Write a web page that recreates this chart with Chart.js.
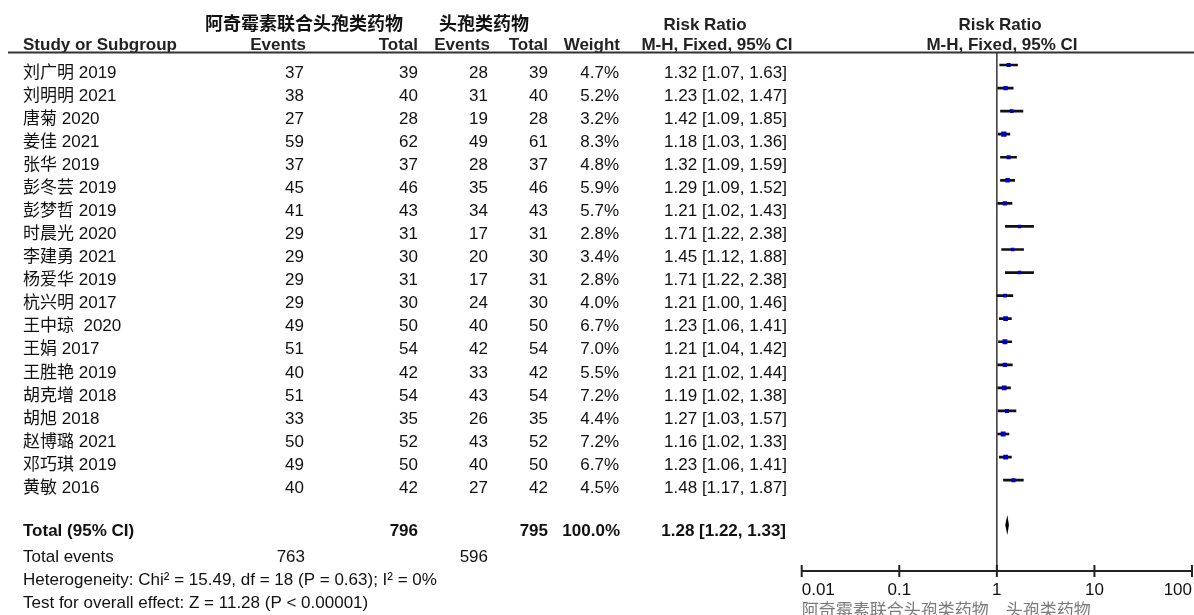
<!DOCTYPE html>
<html lang="zh">
<head>
  <meta charset="UTF-8">
  <title>阿奇霉素联合头孢类药物 vs 头孢类药物 Risk Ratio</title>
  <style>
    body { margin: 0; background: #fff; }
    .wrap { width: 1194px; height: 615px; overflow: hidden; }
  </style>
</head>
<body>
  <div class="wrap"><canvas id="forest" width="1196" height="615"></canvas></div>

  <script src="https://cdn.jsdelivr.net/npm/chart.js"></script>
  <script>
    // 各研究数据
    const studies = ['刘广明 2019', '刘明明 2021', '唐菊 2020', '姜佳 2021', '张华 2019', '彭冬芸 2019',
      '彭梦哲 2019', '时晨光 2020', '李建勇 2021', '杨爱华 2019', '杭兴明 2017', '王中琼  2020',
      '王娟 2017', '王胜艳 2019', '胡克增 2018', '胡旭 2018', '赵博璐 2021', '邓巧琪 2019', '黄敏 2016'];
    const expEvents = [37, 38, 27, 59, 37, 45, 41, 29, 29, 29, 29, 49, 51, 40, 51, 33, 50, 49, 40];
    const expTotal  = [39, 40, 28, 62, 37, 46, 43, 31, 30, 31, 30, 50, 54, 42, 54, 35, 52, 50, 42];
    const ctlEvents = [28, 31, 19, 49, 28, 35, 34, 17, 20, 17, 24, 40, 42, 33, 43, 26, 43, 40, 27];
    const ctlTotal  = [39, 40, 28, 61, 37, 46, 43, 31, 30, 31, 30, 50, 54, 42, 54, 35, 52, 50, 42];
    const weights   = [4.7, 5.2, 3.2, 8.3, 4.8, 5.9, 5.7, 2.8, 3.4, 2.8, 4.0, 6.7, 7.0, 5.5, 7.2, 4.4, 7.2, 6.7, 4.5];
    const rr        = [1.32, 1.23, 1.42, 1.18, 1.32, 1.29, 1.21, 1.71, 1.45, 1.71, 1.21, 1.23, 1.21, 1.21, 1.19, 1.27, 1.16, 1.23, 1.48];
    const ciLow     = [1.07, 1.02, 1.09, 1.03, 1.09, 1.09, 1.02, 1.22, 1.12, 1.22, 1.00, 1.06, 1.04, 1.02, 1.02, 1.03, 1.02, 1.06, 1.17];
    const ciHigh    = [1.63, 1.47, 1.85, 1.36, 1.59, 1.52, 1.43, 2.38, 1.88, 2.38, 1.46, 1.41, 1.42, 1.44, 1.38, 1.57, 1.33, 1.41, 1.87];

    // 合并结果
    const totalExpN = 796, totalCtlN = 795;
    const totalExpEvents = 763, totalCtlEvents = 596;
    const totalWeight = 100.0;
    const totalRR = 1.28, totalLow = 1.22, totalHigh = 1.33;
    const heterogeneity = 'Heterogeneity: Chi² = 15.49, df = 18 (P = 0.63); I² = 0%';
    const overallTest = 'Test for overall effect: Z = 11.28 (P < 0.00001)';

    // 行号（y 轴上的位置）
    const totalRow = 19.95, eventsRow = 21, hetRow = 22, testRow = 23;

    // 横轴刻度与组名
    const axisTicks = [0.01, 0.1, 1, 10, 100];
    const groupExp = '阿奇霉素联合头孢类药物';
    const groupCtl = '头孢类药物';

    const LATIN = "'Liberation Sans', Arial, 'Noto Sans CJK SC', sans-serif";
    const CJK = "'Noto Sans CJK SC', sans-serif";
    const INK = '#111';
    const LINE = '#333';

    const f2 = v => v.toFixed(2);
    const ciText = (m, l, h) => f2(m) + ' [' + f2(l) + ', ' + f2(h) + ']';

    function txt(ctx, s, x, y, align, font, color) {
      ctx.font = font;
      ctx.textAlign = align;
      ctx.fillStyle = color || INK;
      ctx.fillText(s, x, y);
    }

    // 表格文字、无效线、合并菱形和横轴
    const forestTable = {
      id: 'forestTable',
      beforeDatasetsDraw(chart) {
        const { ctx, chartArea: a, scales: { x } } = chart;
        const x1 = x.getPixelForValue(1);
        ctx.save();
        ctx.strokeStyle = LINE;
        ctx.lineWidth = 1.5;
        ctx.beginPath();
        ctx.moveTo(x1, a.top);
        ctx.lineTo(x1, a.bottom);
        ctx.stroke();
        ctx.restore();
      },
      afterDatasetsDraw(chart) {
        const { ctx, chartArea: a, scales: { x, y } } = chart;
        const reg = '17px ' + LATIN;
        const bold = 'bold 17px ' + LATIN;
        const base = row => y.getPixelForValue(row) + 12.7;
        ctx.save();
        ctx.textBaseline = 'alphabetic';

        // 表头
        txt(ctx, groupExp, 304, 30, 'center', 'bold 18px ' + CJK);
        txt(ctx, groupCtl, 484, 30, 'center', 'bold 18px ' + CJK);
        txt(ctx, 'Risk Ratio', 705, 30, 'center', bold, '#222');
        txt(ctx, 'Risk Ratio', 1000, 30, 'center', bold, '#222');
        txt(ctx, 'Study or Subgroup', 23, 50, 'left', bold, '#222');
        txt(ctx, 'Events', 306, 50, 'right', bold, '#222');
        txt(ctx, 'Total', 418, 50, 'right', bold, '#222');
        txt(ctx, 'Events', 490, 50, 'right', bold, '#222');
        txt(ctx, 'Total', 548, 50, 'right', bold, '#222');
        txt(ctx, 'Weight', 620, 50, 'right', bold, '#222');
        txt(ctx, 'M-H, Fixed, 95% CI', 717, 50, 'center', bold, '#222');
        txt(ctx, 'M-H, Fixed, 95% CI', 1002, 50, 'center', bold, '#222');

        ctx.strokeStyle = LINE;
        ctx.lineWidth = 2;
        ctx.beginPath();
        ctx.moveTo(8, 52.5);
        ctx.lineTo(chart.width, 52.5);
        ctx.stroke();

        // 各研究
        studies.forEach((s, i) => {
          const by = base(i);
          txt(ctx, s, 23, by, 'left', reg);
          txt(ctx, String(expEvents[i]), 304, by, 'right', reg);
          txt(ctx, String(expTotal[i]), 418, by, 'right', reg);
          txt(ctx, String(ctlEvents[i]), 488, by, 'right', reg);
          txt(ctx, String(ctlTotal[i]), 548, by, 'right', reg);
          txt(ctx, weights[i].toFixed(1) + '%', 619, by, 'right', reg);
          txt(ctx, ciText(rr[i], ciLow[i], ciHigh[i]), 787, by, 'right', reg);
        });

        // 合并行
        let by = y.getPixelForValue(totalRow) + 11;
        txt(ctx, 'Total (95% CI)', 23, by, 'left', bold);
        txt(ctx, String(totalExpN), 418, by, 'right', bold);
        txt(ctx, String(totalCtlN), 548, by, 'right', bold);
        txt(ctx, totalWeight.toFixed(1) + '%', 620, by, 'right', bold);
        txt(ctx, ciText(totalRR, totalLow, totalHigh), 786, by, 'right', bold);

        by = base(eventsRow);
        txt(ctx, 'Total events', 23, by, 'left', reg);
        txt(ctx, String(totalExpEvents), 305, by, 'right', reg);
        txt(ctx, String(totalCtlEvents), 488, by, 'right', reg);
        txt(ctx, heterogeneity, 23, base(hetRow), 'left', reg);
        txt(ctx, overallTest, 23, base(testRow), 'left', reg);

        // 合并效应菱形
        const dy = y.getPixelForValue(totalRow);
        const xm = x.getPixelForValue(totalRR);
        ctx.fillStyle = '#000';
        ctx.beginPath();
        ctx.moveTo(x.getPixelForValue(totalLow), dy);
        ctx.lineTo(xm, dy - 10);
        ctx.lineTo(x.getPixelForValue(totalHigh), dy);
        ctx.lineTo(xm, dy + 10);
        ctx.closePath();
        ctx.fill();

        // 横轴
        ctx.strokeStyle = '#222';
        ctx.lineWidth = 2;
        ctx.beginPath();
        ctx.moveTo(a.left, a.bottom);
        ctx.lineTo(a.right, a.bottom);
        axisTicks.forEach(t => {
          const px = x.getPixelForValue(t);
          ctx.moveTo(px, a.bottom - 6);
          ctx.lineTo(px, a.bottom + 6);
        });
        ctx.stroke();
        axisTicks.forEach((t, i) => {
          const align = i === 0 ? 'left' : (i === axisTicks.length - 1 ? 'right' : 'center');
          txt(ctx, String(t), x.getPixelForValue(t), a.bottom + 24, align, reg);
        });
        const x1 = x.getPixelForValue(1);
        txt(ctx, groupExp, x1 - 8, a.bottom + 45, 'right', '17px ' + CJK, '#7a7a7a');
        txt(ctx, groupCtl, x1 + 9, a.bottom + 45, 'left', '17px ' + CJK, '#7a7a7a');
        ctx.restore();
      }
    };

    const idx = studies.map((_, i) => i);

    new Chart(document.getElementById('forest'), {
      type: 'bar',
      data: {
        datasets: [
          {
            // 95% CI 线段
            type: 'bar',
            indexAxis: 'y',
            data: idx.map(i => ({ y: i, x: [ciLow[i], ciHigh[i]] })),
            backgroundColor: '#111',
            borderWidth: 0,
            barThickness: 2,
            order: 2
          },
          {
            // 权重方块
            type: 'scatter',
            data: idx.map(i => ({ x: rr[i], y: i })),
            pointStyle: 'rect',
            pointRadius: weights.map(w => 1.8 + 0.23 * w),
            pointBackgroundColor: '#0000cc',
            pointBorderWidth: 0,
            order: 1
          }
        ]
      },
      options: {
        responsive: false,
        animation: false,
        devicePixelRatio: 1,
        layout: { padding: { left: 801.7, right: 1.1, top: 53, bottom: 44 } },
        plugins: { legend: { display: false }, tooltip: { enabled: false } },
        scales: {
          x: { type: 'logarithmic', min: 0.01, max: 100, display: false, beginAtZero: false },
          y: { type: 'linear', min: -0.52, max: 21.94, reverse: true, display: false, offset: false }
        }
      },
      plugins: [forestTable]
    });
  </script>
</body>
</html>
